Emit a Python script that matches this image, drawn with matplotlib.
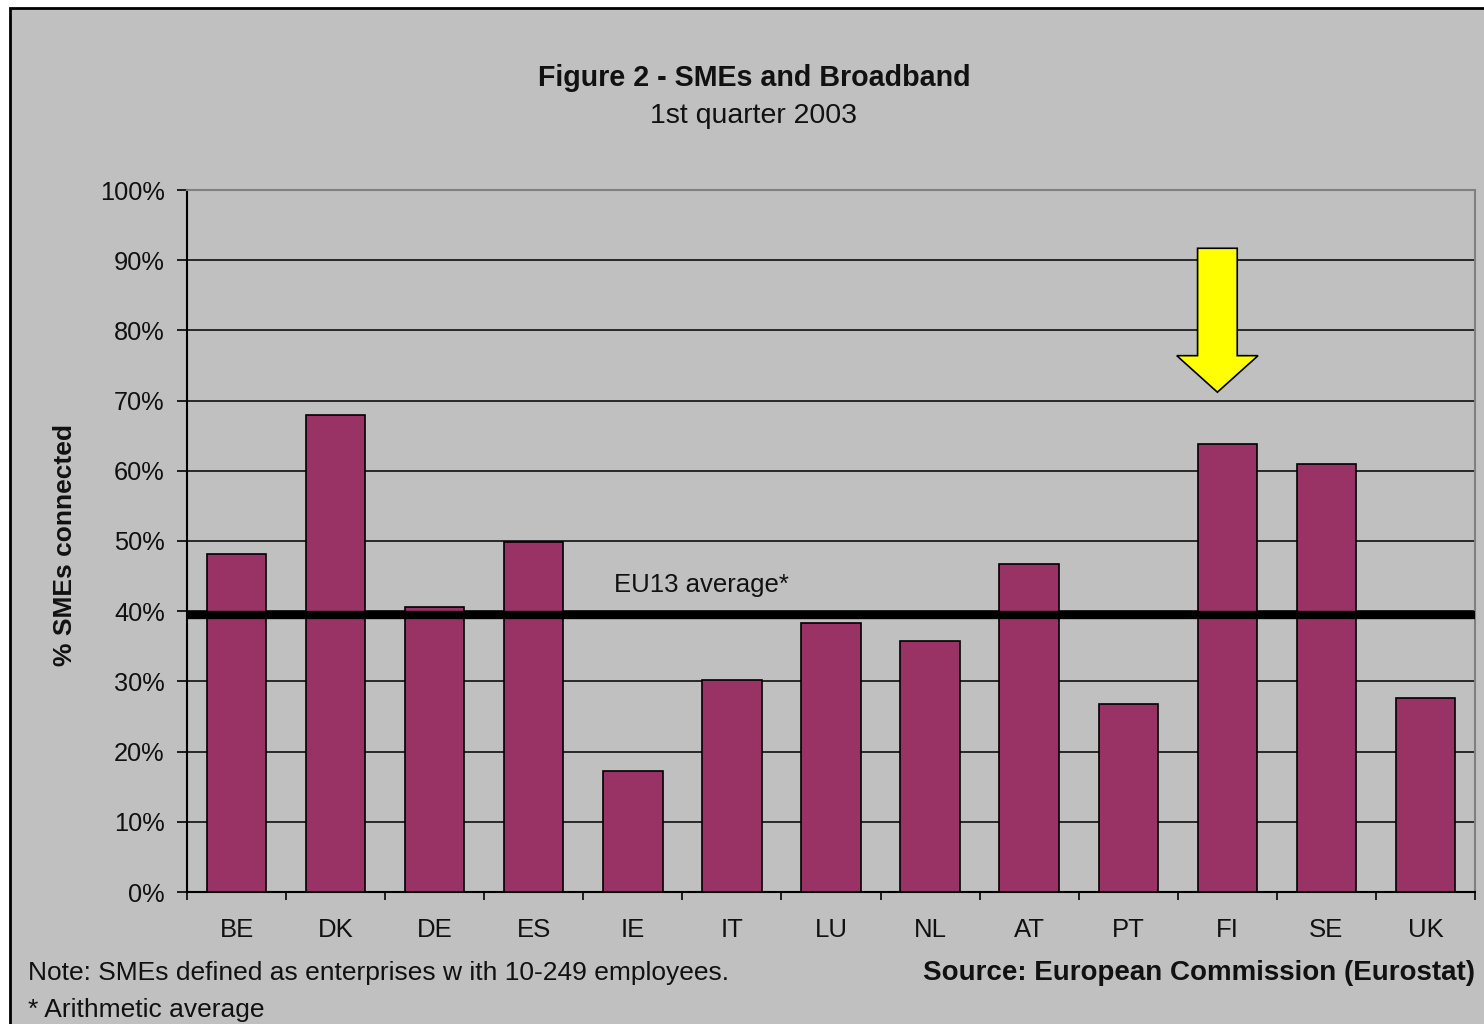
import matplotlib
matplotlib.use("Agg")
import matplotlib.pyplot as plt
from matplotlib.patches import Rectangle, Polygon
import numpy as np

countries = ["BE", "DK", "DE", "ES", "IE", "IT", "LU", "NL", "AT", "PT", "FI", "SE", "UK"]
connected = [48.2, 67.9, 40.6, 49.9, 17.3, 30.2, 38.3, 35.8, 46.7, 26.8, 63.8, 60.9, 27.6]
eu13_average = 39.5
yticks = [0, 10, 20, 30, 40, 50, 60, 70, 80, 90, 100]
highlight = "FI"

plt.rcParams['font.family'] = ['Liberation Sans', 'DejaVu Sans']

W, H = 1484, 1024
fig = plt.figure(figsize=(W / 100, H / 100), dpi=100, facecolor="white")

# outer chart frame
frame = Rectangle((10 / W, -0.05), 1.2, 1 - 8 / H + 0.05, transform=fig.transFigure,
                  facecolor="#c0c0c0", edgecolor="black", linewidth=2, zorder=-10)
fig.patches.append(frame)

ax = fig.add_axes([187 / W, 1 - 892 / H, (1475 - 187) / W, (892 - 190) / H], zorder=2)
ax.set_facecolor("#c0c0c0")

x = np.arange(len(countries))
ax.bar(x, connected, width=0.6, color="#993366", edgecolor="black", linewidth=1.2, zorder=3)

ax.set_xlim(-0.5, len(countries) - 0.5)
ax.set_ylim(0, 100)
ax.set_yticks(yticks)
ax.set_yticklabels([f"{v}%" for v in yticks], fontsize=18.3, color="#111111")
ax.yaxis.grid(True, color="black", linewidth=1.1, zorder=1)
ax.set_axisbelow(True)

ax.set_xticks(x)
ax.set_xticklabels(countries, fontsize=18.5, color="#111111")
ax.tick_params(axis="x", which="major", length=0, pad=19)
ax.set_xticks(np.arange(-0.5, len(countries)), minor=True)
ax.tick_params(axis="x", which="minor", length=6, width=1.2, direction="out", color="black")
ax.tick_params(axis="y", length=7, width=1.2, direction="out", pad=9)

for s in ["top", "right"]:
    ax.spines[s].set_color("#808080")
    ax.spines[s].set_linewidth(1.5)
for s in ["left", "bottom"]:
    ax.spines[s].set_color("black")
    ax.spines[s].set_linewidth(1.5)

# EU13 average line
ax.axhline(eu13_average, color="black", linewidth=6, zorder=4)
ax.text(4.69, eu13_average + 4.3, "EU13 average*", fontsize=18.5, ha="center", va="center",
        color="#111111", zorder=5)

# highlight arrow above FI
fi = countries.index(highlight) - 0.1
arrow = Polygon([(fi - 0.2, 91.7), (fi + 0.2, 91.7), (fi + 0.2, 76.4), (fi + 0.41, 76.4),
                 (fi, 71.2), (fi - 0.41, 76.4), (fi - 0.2, 76.4)],
                closed=True, facecolor="yellow", edgecolor="black", linewidth=1.2, zorder=6)
ax.add_patch(arrow)

ax.set_ylabel("% SMEs connected", fontsize=19, fontweight="bold", color="#111111")
ax.yaxis.set_label_coords(-0.0854, 0.494)

fig.text(754 / W, 1 - 78 / H, "Figure 2 - SMEs and Broadband", fontsize=20.6, fontweight="bold",
         ha="center", va="center", color="#111111")
fig.text(754 / W, 1 - 116 / H, "1st quarter 2003", fontsize=20.5, ha="center", va="center",
         color="#111111")

fig.text(28 / W, 1 - 973 / H, "Note: SMEs defined as enterprises w ith 10-249 employees.",
         fontsize=19, ha="left", va="center", color="#111111")
fig.text(28 / W, 1 - 1010 / H, "* Arithmetic average", fontsize=19, ha="left", va="center",
         color="#111111")
fig.text(1475 / W, 1 - 973 / H, "Source: European Commission (Eurostat)", fontsize=20,
         ha="right", va="center", color="#111111", fontweight="bold")

fig.savefig("out.png", dpi=100, facecolor="white")
